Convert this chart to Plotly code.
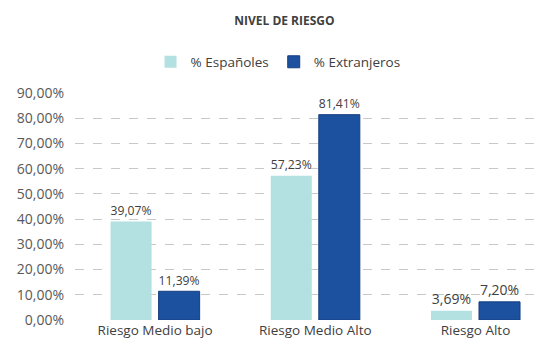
import plotly.graph_objects as go

categories = ["Riesgo Medio bajo", "Riesgo Medio Alto", "Riesgo Alto"]
espanoles = [39.07, 57.23, 3.69]
extranjeros = [11.39, 81.41, 7.20]
tick_vals = [0, 10, 20, 30, 40, 50, 60, 70, 80, 90]

def fmt(v):
    return f"{v:.2f}".replace(".", ",") + "%"

font_family = "Open Sans, Noto Sans, sans-serif"

fig = go.Figure()
fig.add_trace(go.Bar(
    x=categories, y=espanoles, name="% Españoles",
    marker=dict(color="#b3e0e0", line=dict(width=0)),
    text=[fmt(v) for v in espanoles], textposition="outside",
    textfont=dict(size=14, color="#404040"), cliponaxis=False,
))
fig.add_trace(go.Bar(
    x=categories, y=extranjeros, name="% Extranjeros",
    marker=dict(color="#1c51a0", line=dict(width=1, color="#163f80")),
    text=[fmt(v) for v in extranjeros], textposition="outside",
    textfont=dict(size=14, color="#404040"), cliponaxis=False,
))

# browser default body margin of 8px is compensated in the size/margins
fig.update_layout(
    width=542, height=354,
    margin=dict(l=67, r=5, t=85, b=42, autoexpand=False),
    paper_bgcolor="white", plot_bgcolor="white",
    font=dict(family=font_family, size=13, color="#595959"),
    title=dict(text="<b>NIVEL DE RIESGO</b>", x=0.51, xanchor="center",
               y=1 - 13/354, yanchor="middle",
               font=dict(size=12, color="#404040")),
    legend=dict(orientation="h", x=0.432, xanchor="center", y=1 - 54/354,
                yref="container", yanchor="middle",
                font=dict(size=13.5, color="#404040"),
                itemwidth=30, traceorder="normal"),
    barmode="group", bargap=0.40, bargroupgap=0.146,
    separators=",.",
    showlegend=True,
)
fig.update_xaxes(showgrid=False, showline=False, ticks="",
                 range=[-0.5, 2.434],
                 tickfont=dict(size=13.5, color="#404040"))
fig.update_yaxes(range=[0, 90], tickvals=tick_vals,
                 ticktext=[fmt(v) for v in tick_vals],
                 showgrid=True, gridcolor="#c8c8c8", griddash="dash",
                 gridwidth=1, zeroline=False, showline=False,
                 tickfont=dict(size=14, color="#595959"), ticklen=0,
                 ticklabelstandoff=10)

fig.write_html("out.html")
